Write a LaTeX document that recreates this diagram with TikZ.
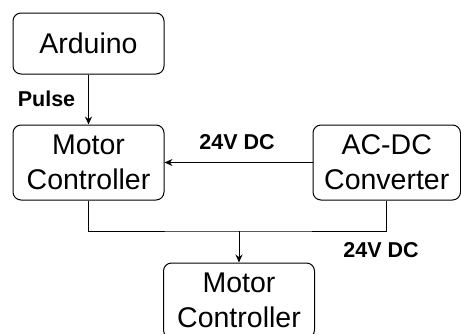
\documentclass[tikz,border=0pt]{standalone}
\usepackage{fontspec}
\setmainfont{Liberation Sans}
\usetikzlibrary{arrows.meta}
\begin{document}
\begin{tikzpicture}[x=1pt, y=-1pt, line width=1pt,
    blk/.style={draw, rounded corners=8pt, minimum width=151pt, inner sep=0pt, align=center, font=\fontsize{28.5}{35}\selectfont},
    lbl/.style={font=\fontsize{21.5}{25}\selectfont\bfseries, inner sep=0pt},
    arr/.style={-{Stealth[length=8pt,width=7pt]}}]
  \useasboundingbox (0,0) rectangle (461,333);
  \clip (0,0) rectangle (461,333);
  \node[blk, minimum height=61pt] (ard) at (88.5,43.5) {Arduino};
  \node[blk, minimum height=75pt] (mc) at (88.5,162.5) {Motor\\Controller};
  \node[blk, minimum height=75pt, minimum width=147.5pt] (acdc) at (386.75,162.5) {AC-DC\\Converter};
  \node[blk, minimum height=75pt] (mot) at (239,300.5) {Motor\\Controller};
  \coordinate (bus) at (239,231);
  % connectors
  \draw[arr] (ard) -- (mc);
  \draw[arr] (acdc) -- (mc);
  \draw (mc.south) |- (bus) -| (acdc.south);
  \draw[arr] (bus) -- (mot);
  % labels
  \node[lbl] (pulse) at (46.5,99) {Pulse};
  \node[lbl] (dc1) at (237,142.5) {24V DC};
  \node[lbl] (dc2) at (381,250.5) {24V DC};
\end{tikzpicture}
\end{document}
